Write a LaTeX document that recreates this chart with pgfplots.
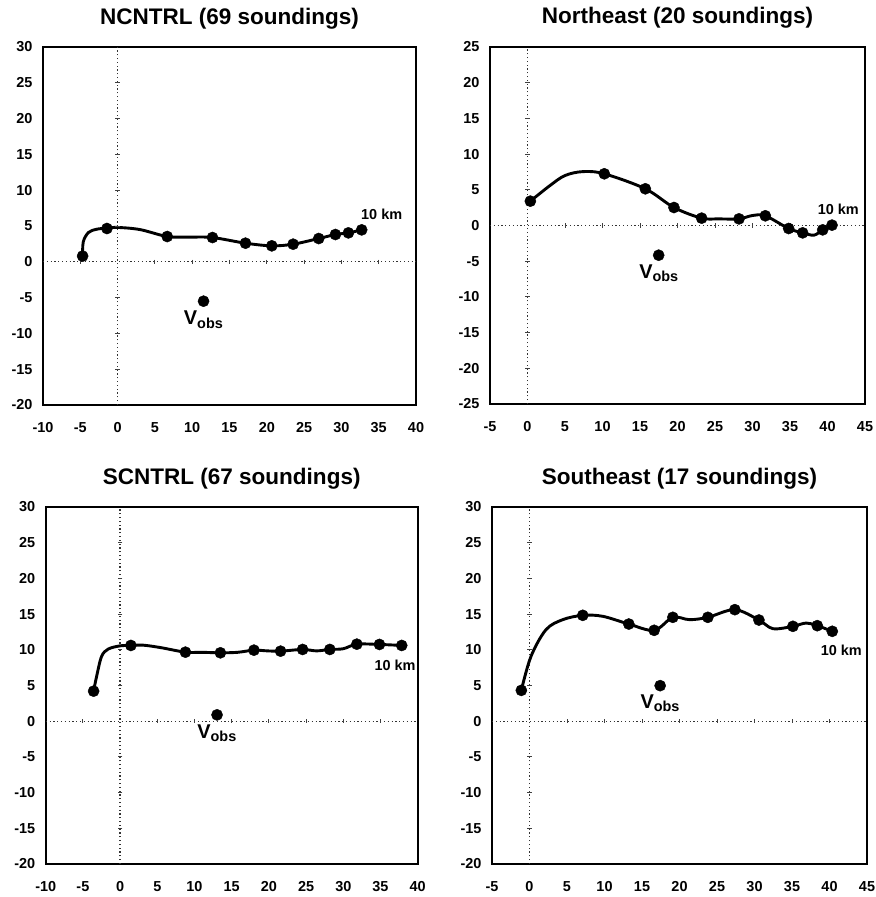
\documentclass[border=0pt]{standalone}
\usepackage{pgfplots}
\pgfplotsset{compat=1.18}
\usepackage{fontspec}
\setmainfont{Liberation Sans}

\pgfplotsset{
  panel/.style={
    scale only axis,
    axis line style={line width=1.7bp},
    major tick length=0pt,
    xtick distance=5, ytick distance=5,
    tick label style={font=\fontsize{14.5}{15}\selectfont\bfseries},
    /pgf/number format/assume math mode=true,
    xticklabel style={yshift=-14bp},
    yticklabel style={xshift=-7bp},
    every axis title/.style={at={(0.5,1)}, anchor=base, yshift=23bp, font=\fontsize{22.6}{24}\selectfont\bfseries},
    clip=false,
  },
  curve/.style={line width=2.9bp, smooth, tension=0.55, black},
  dots/.style={only marks, mark=*, mark size=5.6bp, black},
  zero/.style={line width=1.3bp, black!80, dash pattern=on 1.2bp off 2.6bp},
  xt/.style={only marks, mark=|, mark size=2.2bp, mark options={line width=0.9bp, black!75}},
  yt/.style={only marks, mark=-, mark size=2.2bp, mark options={line width=0.9bp, black!75}},
}
\newcommand{\vobs}{{\fontsize{20}{20}\selectfont\bfseries V}{\fontsize{14.5}{14.5}\selectfont\bfseries\raisebox{-3.5bp}{obs}}}
\newcommand{\km}{\fontsize{14.5}{14.5}\selectfont\bfseries 10 km}

\begin{document}
\begin{tikzpicture}
\path[use as bounding box] (0,0) rectangle (876bp,-897bp);

% ---------------- Panel 1: NCNTRL
\begin{axis}[panel, at={(43bp,-47bp)}, anchor=north west, width=373bp, height=358bp,
  xmin=-10, xmax=40, ymin=-20, ymax=30, title={NCNTRL (69 soundings)}]
\addplot[zero] coordinates {(-10,0) (40,0)};
\addplot[zero] coordinates {(0,-20) (0,30)};
\addplot[xt] coordinates {(-5,0)(5,0)(10,0)(15,0)(20,0)(25,0)(30,0)(35,0)};
\addplot[yt] coordinates {(0,-15)(0,-10)(0,-5)(0,5)(0,10)(0,15)(0,20)(0,25)};
\addplot[curve] coordinates {(-4.69,0.8) (-4.6,2.8) (-3.9,4.1) (-2.8,4.55) (-1.43,4.7) (0,4.8) (3,4.5) (6.65,3.53) (9.5,3.45) (12.72,3.39) (17.14,2.6) (20.67,2.23) (23.53,2.46) (26.96,3.25) (29.2,3.81) (30.94,4.04) (32.72,4.46)};
\addplot[dots] coordinates {(-4.69,0.8) (-1.43,4.65) (6.65,3.53) (12.72,3.39) (17.14,2.6) (20.67,2.23) (23.53,2.46) (26.96,3.25) (29.2,3.81) (30.94,4.04) (32.72,4.46)};
\addplot[dots] coordinates {(11.52,-5.5)};
\node at (axis cs:11.5,-8.1) {\vobs};
\node at (axis cs:35.4,6.56) {\km};
\end{axis}

% ---------------- Panel 2: Northeast
\begin{axis}[panel, at={(490bp,-47bp)}, anchor=north west, width=375bp, height=357bp,
  xmin=-5, xmax=45, ymin=-25, ymax=25, title={Northeast (20 soundings)}]
\addplot[zero] coordinates {(-5,0) (45,0)};
\addplot[zero] coordinates {(0,-25) (0,25)};
\addplot[xt] coordinates {(5,0)(10,0)(15,0)(20,0)(25,0)(30,0)(35,0)(40,0)};
\addplot[yt] coordinates {(0,-20)(0,-15)(0,-10)(0,-5)(0,5)(0,10)(0,15)(0,20)};
\addplot[curve] coordinates {(0.38,3.41) (3,5.6) (5,7.0) (7.4,7.55) (10.24,7.24) (15.71,5.14) (19.53,2.52) (23.22,1.03) (25.5,0.93) (28.2,0.93) (30,1.4) (31.71,1.36) (34.82,-0.42) (36.69,-1.03) (38.2,-1.35) (39.36,-0.61) (40.6,0.05)};
\addplot[dots] coordinates {(0.38,3.41) (10.24,7.24) (15.71,5.14) (19.53,2.52) (23.22,1.03) (28.2,0.93) (31.71,1.36) (34.82,-0.42) (36.69,-1.03) (39.36,-0.61) (40.6,0.05)};
\addplot[dots] coordinates {(17.49,-4.16)};
\node at (axis cs:17.5,-6.7) {\vobs};
\node at (axis cs:41.44,2.2) {\km};
\end{axis}

% ---------------- Panel 3: SCNTRL
\begin{axis}[panel, at={(45.7bp,-507bp)}, anchor=north west, width=372bp, height=357bp,
  xmin=-10, xmax=40, ymin=-20, ymax=30, title={SCNTRL (67 soundings)}]
\addplot[zero] coordinates {(-10,0) (40,0)};
\addplot[zero] coordinates {(0,-20) (0,30)};
\addplot[xt] coordinates {(-5,0)(5,0)(10,0)(15,0)(20,0)(25,0)(30,0)(35,0)};
\addplot[yt] coordinates {(0,-15)(0,-10)(0,-5)(0,5)(0,10)(0,15)(0,20)(0,25)};
\addplot[curve] coordinates {(-3.56,4.21) (-3.16,6.26) (-2.49,9.07) (-1.6,10.1) (-0.03,10.55) (1.45,10.61) (3.1,10.65) (5.5,10.3) (8.78,9.67) (11,9.65) (13.48,9.58) (15.8,9.65) (17.99,9.95) (19.8,9.85) (21.57,9.81) (24.53,10.05) (26.4,9.85) (28.19,10.05) (30,10.15) (31.82,10.79) (34.86,10.75) (37.85,10.61)};
\addplot[dots] coordinates {(-3.56,4.21) (1.45,10.61) (8.78,9.67) (13.48,9.58) (17.99,9.95) (21.57,9.81) (24.53,10.05) (28.19,10.05) (31.82,10.79) (34.86,10.75) (37.85,10.61)};
\addplot[dots] coordinates {(13.03,0.89)};
\node at (axis cs:13.0,-1.7) {\vobs};
\node at (axis cs:36.96,7.76) {\km};
\end{axis}

% ---------------- Panel 4: Southeast
\begin{axis}[panel, at={(492bp,-507bp)}, anchor=north west, width=375bp, height=357bp,
  xmin=-5, xmax=45, ymin=-20, ymax=30, title={Southeast (17 soundings)}]
\addplot[zero] coordinates {(-5,0) (45,0)};
\addplot[zero] coordinates {(0,-20) (0,30)};
\addplot[xt] coordinates {(5,0)(10,0)(15,0)(20,0)(25,0)(30,0)(35,0)(40,0)};
\addplot[yt] coordinates {(0,-15)(0,-10)(0,-5)(0,5)(0,10)(0,15)(0,20)(0,25)};
\addplot[curve] coordinates {(-1.09,4.32) (0.2,9.08) (2.2,12.82) (4.43,14.22) (7.1,14.83) (9.77,14.69) (13.24,13.61) (16.62,12.73) (19.11,14.55) (21.33,14.22) (23.78,14.55) (27.38,15.62) (30.59,14.17) (32.46,12.96) (35.12,13.29) (36.9,13.75) (38.37,13.38) (40.37,12.59)};
\addplot[dots] coordinates {(-1.09,4.32) (7.1,14.83) (13.24,13.61) (16.62,12.73) (19.11,14.55) (23.78,14.55) (27.38,15.62) (30.59,14.17) (35.12,13.29) (38.37,13.38) (40.37,12.59)};
\addplot[dots] coordinates {(17.42,4.98)};
\node at (axis cs:17.4,2.55) {\vobs};
\node at (axis cs:41.57,9.93) {\km};
\end{axis}
\end{tikzpicture}
\end{document}
